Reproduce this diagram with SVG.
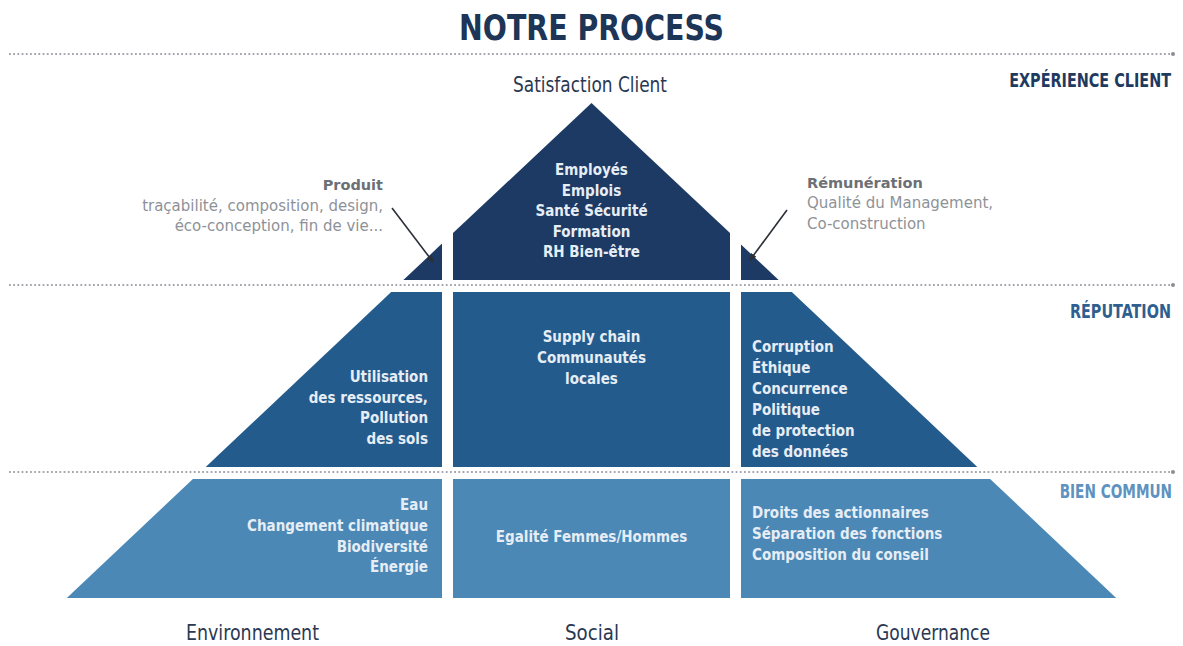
<svg xmlns="http://www.w3.org/2000/svg" width="1183" height="646" viewBox="0 0 1183 646">
<defs>
<style>
.dot{stroke:#a3a7ad;stroke-width:1.8;stroke-dasharray:1.8 2.4;fill:none}
.endd{fill:#8a8e94}
.t1{fill:#1c3a63}
.t2{fill:#245b8d}
.t3{fill:#4b88b6}
.in{font-family:"DejaVu Sans Condensed","Roboto Condensed","Liberation Sans Narrow","Roboto",sans-serif;font-weight:bold;font-size:15px;fill:#e6edf5}
.hd{font-family:"DejaVu Sans Condensed","Roboto Condensed","Liberation Sans Narrow","Roboto",sans-serif;font-weight:bold}
.lb{font-family:"DejaVu Sans Condensed","Roboto Condensed","Liberation Sans Narrow","Roboto",sans-serif;font-size:21px;fill:#2a3852}
.note{font-family:"DejaVu Sans","Roboto",sans-serif;font-size:15px;fill:#8e9298}
.noteb{font-family:"DejaVu Sans","Roboto",sans-serif;font-size:14.5px;font-weight:bold;fill:#6c7076}
.arr{stroke:#2b2f36;stroke-width:1.6;fill:none}
</style>
<marker id="ah" viewBox="0 0 10 10" refX="8" refY="5" markerWidth="5" markerHeight="5" orient="auto">
<path d="M0,1 L10,5 L0,9 z" fill="#2b2f36"/>
</marker>
</defs>
<rect width="1183" height="646" fill="#ffffff"/>

<text class="hd" x="591.5" y="40" text-anchor="middle" font-size="36" fill="#1d3557" textLength="265" lengthAdjust="spacingAndGlyphs">NOTRE PROCESS</text>

<g id="separators">
<line class="dot" x1="9" y1="54" x2="1170" y2="54"/><circle class="endd" cx="1173" cy="54" r="2"/>
<line class="dot" x1="9" y1="285" x2="1170" y2="285"/><circle class="endd" cx="1173" cy="285" r="2"/>
<line class="dot" x1="9" y1="472" x2="1170" y2="472"/><circle class="endd" cx="1173" cy="472" r="2"/>
</g>

<g id="level-labels">
<text class="hd" transform="translate(1171,87) scale(0.8,1)" x="0" y="0" text-anchor="end" font-size="20" fill="#1f3a60">EXPÉRIENCE CLIENT</text>
<text class="hd" transform="translate(1171,318) scale(0.8,1)" x="0" y="0" text-anchor="end" font-size="20" fill="#2e5f90">RÉPUTATION</text>
<text class="hd" transform="translate(1172,498) scale(0.8,1)" x="0" y="0" text-anchor="end" font-size="19" fill="#5e92c0">BIEN COMMUN</text>
</g>

<g id="apex-label">
<text class="lb" x="590" y="92" text-anchor="middle" fill="#3a4962" font-size="22" textLength="154" lengthAdjust="spacingAndGlyphs">Satisfaction Client</text>
</g>

<g id="node-top-left">
<polygon class="t1" points="442,243.6 442,280 403.4,280"/>
</g>
<g id="node-top-center">
<polygon class="t1" points="591.5,103 730,233 730,280 453,280 453,233"/>
<text class="in" text-anchor="middle"><tspan x="591.5" y="175">Employés</tspan><tspan x="591.5" y="195.5">Emplois</tspan><tspan x="591.5" y="216">Santé Sécurité</tspan><tspan x="591.5" y="236.5">Formation</tspan><tspan x="591.5" y="257">RH Bien-être</tspan></text>
</g>
<g id="node-top-right">
<polygon class="t1" points="741,244.5 741,280 778.6,280"/>
</g>

<g id="node-mid-left">
<polygon class="t2" points="391.2,292 442,292 442,467 205.7,467"/>
<text class="in" text-anchor="end"><tspan x="428" y="382">Utilisation</tspan><tspan x="428" y="402.5">des ressources,</tspan><tspan x="428" y="423">Pollution</tspan><tspan x="428" y="443.5">des sols</tspan></text>
</g>
<g id="node-mid-center">
<rect class="t2" x="453" y="292" width="277" height="175"/>
<text class="in" text-anchor="middle"><tspan x="591.5" y="342">Supply chain</tspan><tspan x="591.5" y="363">Communautés</tspan><tspan x="591.5" y="384">locales</tspan></text>
</g>
<g id="node-mid-right">
<polygon class="t2" points="741,292 791.8,292 977.3,467 741,467"/>
<text class="in"><tspan x="752" y="352">Corruption</tspan><tspan x="752" y="372.5">Éthique</tspan><tspan x="752" y="393.5">Concurrence</tspan><tspan x="752" y="414.5">Politique</tspan><tspan x="752" y="435.5">de protection</tspan><tspan x="752" y="456.5">des données</tspan></text>
</g>

<g id="node-bot-left">
<polygon class="t3" points="192.9,479 442,479 442,598 66.8,598"/>
<text class="in" text-anchor="end"><tspan x="428" y="510">Eau</tspan><tspan x="428" y="531">Changement climatique</tspan><tspan x="428" y="551.5">Biodiversité</tspan><tspan x="428" y="572">Énergie</tspan></text>
</g>
<g id="node-bot-center">
<rect class="t3" x="453" y="479" width="277" height="119"/>
<text class="in" x="591.5" y="542" text-anchor="middle">Egalité Femmes/Hommes</text>
</g>
<g id="node-bot-right">
<polygon class="t3" points="741,479 990.1,479 1116.2,598 741,598"/>
<text class="in"><tspan x="752" y="518">Droits des actionnaires</tspan><tspan x="752" y="539">Séparation des fonctions</tspan><tspan x="752" y="560">Composition du conseil</tspan></text>
</g>

<g id="note-produit">
<text class="noteb" x="383" y="190" text-anchor="end">Produit</text>
<text class="note" x="383" y="211" text-anchor="end">traçabilité,  composition, design,</text>
<text class="note" x="383" y="231" text-anchor="end">éco-conception, fin de vie...</text>
</g>
<g id="note-remuneration">
<text class="noteb" x="807" y="188">Rémunération</text>
<text class="note" x="807" y="208">Qualité du Management,</text>
<text class="note" x="807" y="229">Co-construction</text>
</g>

<g id="connectors">
<line class="arr" x1="392" y1="208" x2="433" y2="262" marker-end="url(#ah)"/>
<line class="arr" x1="787" y1="210" x2="750" y2="260" marker-end="url(#ah)"/>
</g>

<g id="column-labels">
<text class="lb" x="252.5" y="640" text-anchor="middle" textLength="133" lengthAdjust="spacingAndGlyphs">Environnement</text>
<text class="lb" x="592" y="640" text-anchor="middle" textLength="54" lengthAdjust="spacingAndGlyphs">Social</text>
<text class="lb" x="933" y="640" text-anchor="middle" textLength="114" lengthAdjust="spacingAndGlyphs">Gouvernance</text>
</g>
</svg>
